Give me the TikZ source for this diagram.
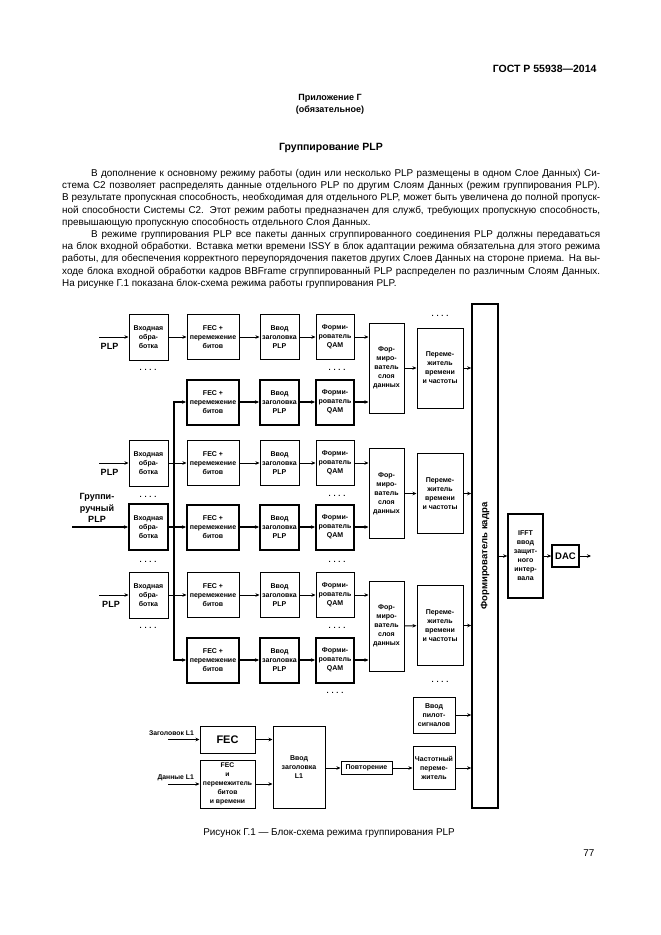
\documentclass[tikz,border=0pt]{standalone}
\usepackage{fontspec}
\setmainfont{Liberation Sans}
\usetikzlibrary{arrows.meta,positioning,calc}
\newcommand{\boxfont}{\fontsize{7}{9}\selectfont\bfseries}
\newcommand{\lblfont}{\fontsize{9}{11.5}\selectfont\bfseries}
\newcommand{\bodyfont}{\fontsize{9.9}{12.2}\selectfont}
\tikzset{
    >={Stealth[length=4pt,width=3.5pt]},
    block/.style={
        rectangle,
        draw=black, line width=1pt,
        align=center,
        inner sep=0.5pt,
        font=\boxfont
    },
    heavy block/.style={block, line width=2pt},
    conn/.style={draw, line width=1pt},
    heavy conn/.style={draw, line width=2pt},
    inbox/.style={minimum width=39pt, minimum height=46pt},
    fecbox/.style={minimum width=52pt, minimum height=45pt},
    hdrbox/.style={minimum width=39pt, minimum height=45pt},
    qambox/.style={minimum width=38pt, minimum height=45pt},
    slicebox/.style={minimum width=35pt, minimum height=90pt},
    ilvbox/.style={minimum width=46pt, minimum height=80pt},
    dots/.style={font=\fontsize{7.5}{7.5}\selectfont\bfseries, inner sep=0pt},
    plplabel/.style={font=\lblfont, inner sep=0pt}
}

\begin{document}
\begin{tikzpicture}[x=1pt,y=-1pt]
    \useasboundingbox (0,0) rectangle (661,935);
    \fill[white] (0,0) rectangle (661,935);

    % page header and text
    \node[anchor=base east, font=\fontsize{10.5}{12}\selectfont\bfseries] (gost) at (600,72) {ГОСТ Р 55938—2014};
    \node[align=center, font=\fontsize{9}{12}\selectfont\bfseries] (annex) at (330,104) {Приложение Г\\(обязательное)};
    \node[font=\fontsize{10.5}{12}\selectfont\bfseries] (title) at (331,148) {Группирование PLP};
    \node[anchor=north west, text width=538pt, align=justify, inner sep=0pt, font=\bodyfont] (body) at (62,169) {\hyphenpenalty=10000
        \hspace*{29pt}В дополнение к основному режиму работы (один или несколько PLP размещены в одном Слое Данных) Си-\linebreak
        стема C2 позволяет распределять данные отдельного PLP по другим Слоям Данных (режим группирования PLP).\linebreak
        В результате пропускная способность, необходимая для отдельного PLP, может быть увеличена до полной пропуск-\linebreak
        ной способности Системы C2. Этот режим работы предназначен для служб, требующих пропускную способность,\linebreak
        превышающую пропускную способность отдельного Слоя Данных.\par
        \hspace*{29pt}В режиме группирования PLP все пакеты данных сгруппированного соединения PLP должны передаваться\linebreak
        на блок входной обработки. Вставка метки времени ISSY в блок адаптации режима обязательна для этого режима\linebreak
        работы, для обеспечения корректного переупорядочения пакетов других Слоев Данных на стороне приема. На вы-\linebreak
        ходе блока входной обработки кадров BBFrame сгруппированный PLP распределен по различным Слоям Данных.\linebreak
        На рисунке Г.1 показана блок-схема режима работы группирования PLP.};

    % input processing
    \node[block, inbox] (in1) at (148.5,337) {Входная\\обра-\\ботка};
    \node[block, inbox] (in3) at (148.5,463) {Входная\\обра-\\ботка};
    \node[heavy block, inbox] (in4) at (148.5,527) {Входная\\обра-\\ботка};
    \node[block, inbox] (in5) at (148.5,595) {Входная\\обра-\\ботка};

    % FEC, header and QAM rows
    \node[block, fecbox] (fec1) at (213,337) {FEC +\\перемежение\\битов};
    \node[heavy block, fecbox] (fec2) at (213,402) {FEC +\\перемежение\\битов};
    \node[block, fecbox] (fec3) at (213,463) {FEC +\\перемежение\\битов};
    \node[heavy block, fecbox] (fec4) at (213,527) {FEC +\\перемежение\\битов};
    \node[block, fecbox] (fec5) at (213,595) {FEC +\\перемежение\\битов};
    \node[heavy block, fecbox] (fec6) at (213,660) {FEC +\\перемежение\\битов};

    \node[block, hdrbox] (hd1) at (279.5,337) {Ввод\\заголовка\\PLP};
    \node[heavy block, hdrbox] (hd2) at (279.5,402) {Ввод\\заголовка\\PLP};
    \node[block, hdrbox] (hd3) at (279.5,463) {Ввод\\заголовка\\PLP};
    \node[heavy block, hdrbox] (hd4) at (279.5,527) {Ввод\\заголовка\\PLP};
    \node[block, hdrbox] (hd5) at (279.5,595) {Ввод\\заголовка\\PLP};
    \node[heavy block, hdrbox] (hd6) at (279.5,660) {Ввод\\заголовка\\PLP};

    \node[block, qambox] (qam1) at (335,337) {Форми-\\рователь\\QAM};
    \node[heavy block, qambox] (qam2) at (335,402) {Форми-\\рователь\\QAM};
    \node[block, qambox] (qam3) at (335,463) {Форми-\\рователь\\QAM};
    \node[heavy block, qambox] (qam4) at (335,527) {Форми-\\рователь\\QAM};
    \node[block, qambox] (qam5) at (335,595) {Форми-\\рователь\\QAM};
    \node[heavy block, qambox] (qam6) at (335,660) {Форми-\\рователь\\QAM};

    % data slices and interleavers
    \node[block, slicebox] (ds1) at (386.5,368) {Фор-\\миро-\\ватель\\слоя\\данных};
    \node[block, slicebox] (ds2) at (386.5,493.5) {Фор-\\миро-\\ватель\\слоя\\данных};
    \node[block, slicebox] (ds3) at (386.5,626) {Фор-\\миро-\\ватель\\слоя\\данных};
    \node[block, ilvbox] (il1) at (440,368) {Переме-\\житель\\времени\\и частоты};
    \node[block, ilvbox] (il2) at (440,493.5) {Переме-\\житель\\времени\\и частоты};
    \node[block, ilvbox] (il3) at (440,625.5) {Переме-\\житель\\времени\\и частоты};

    % frame builder and output
    \node[block, line width=1.6pt, minimum width=26pt, minimum height=504pt] (ff) at (485,556) {};
    \node[rotate=90, font=\fontsize{9.5}{11}\selectfont\bfseries, inner sep=0pt] (fflabel) at (ff.center) {Формирователь кадра};
    \node[block, line width=1.6pt, minimum width=35pt, minimum height=84pt] (ifft) at (525.5,556) {IFFT\\ввод\\защит-\\ного\\интер-\\вала};
    \node[block, line width=1.4pt, minimum width=27pt, minimum height=22pt, font=\fontsize{9.5}{11}\selectfont\bfseries] (dac) at (565.5,556) {DAC};
    \coordinate (out) at (591,556);

    % L1 signalling
    \node[block, minimum width=55pt, minimum height=27pt, font=\fontsize{11}{13}\selectfont\bfseries] (fecl) at (227.5,739.5) {FEC};
    \node[block, minimum width=55pt, minimum height=48pt, font=\fontsize{6.8}{8.9}\selectfont\bfseries] (fecil) at (227.5,784) {FEC\\и\\перемежитель\\битов\\и времени};
    \node[block, minimum width=52pt, minimum height=82pt] (vvl) at (299,767) {Ввод\\заголовка\\L1};
    \node[block, minimum width=51pt, minimum height=13pt] (rep) at (366.5,768) {Повторение};
    \node[block, minimum width=42pt, minimum height=43pt] (fil) at (434,768) {Частотный\\переме-\\житель};
    \node[block, minimum width=42pt, minimum height=36pt] (pil) at (434,715) {Ввод\\пилот-\\сигналов};
    \coordinate (hdr) at (168,739.5);
    \coordinate (dat) at (168,784);
    \node[anchor=south east, font=\fontsize{6.8}{8}\selectfont\bfseries, inner sep=0pt] (hdrlabel) at (194,736) {Заголовок L1};
    \node[anchor=south east, font=\fontsize{6.8}{8}\selectfont\bfseries, inner sep=0pt] (datlabel) at (194,781) {Данные L1};

    % PLP inputs
    \coordinate (plp1) at (99,337);
    \coordinate (plp3) at (99,463);
    \coordinate (grp) at (72,527);
    \coordinate (plp5) at (99,595);
    \coordinate (bus) at (174,527);
    \node[plplabel] (plp1label) at (109.5,346) {PLP};
    \node[plplabel] (plp3label) at (109.5,472) {PLP};
    \node[plplabel, align=center] (grplabel) at (97,508) {Группи-\\ручный\\PLP};
    \node[plplabel] (plp5label) at (111,604) {PLP};

    % dots
    \node[dots] (dt1) at (148,370) {. . . .};
    \node[dots] (dt2) at (148,497) {. . . .};
    \node[dots] (dt3) at (148,562) {. . . .};
    \node[dots] (dt4) at (148,628) {. . . .};
    \node[dots] (dt5) at (337,370) {. . . .};
    \node[dots] (dt6) at (337,496) {. . . .};
    \node[dots] (dt7) at (337,562) {. . . .};
    \node[dots] (dt8) at (337,628) {. . . .};
    \node[dots] (dt9) at (440,316) {. . . .};
    \node[dots] (dt10) at (440,682) {. . . .};
    \node[dots] (dt11) at (335,693) {. . . .};

    % connections
    \draw[conn,->] (plp1) -- (in1);
    \draw[conn,->] (plp3) -- (in3);
    \draw[heavy conn,->] (grp) -- (in4);
    \draw[conn,->] (plp5) -- (in5);
    \draw[conn,->] (in1) -- (fec1);
    \draw[conn,->] (in3) -- (fec3);
    \draw[heavy conn,->] (in4) -- (fec4);
    \draw[conn,->] (in5) -- (fec5);
    \draw[heavy conn,<->] (fec2.west) -| (bus |- fec6.west) -- (fec6.west);

    \draw[conn,->] (fec1) -- (hd1);
    \draw[heavy conn,->] (fec2) -- (hd2);
    \draw[conn,->] (fec3) -- (hd3);
    \draw[heavy conn,->] (fec4) -- (hd4);
    \draw[conn,->] (fec5) -- (hd5);
    \draw[heavy conn,->] (fec6) -- (hd6);
    \draw[conn,->] (hd1) -- (qam1);
    \draw[heavy conn,->] (hd2) -- (qam2);
    \draw[conn,->] (hd3) -- (qam3);
    \draw[heavy conn,->] (hd4) -- (qam4);
    \draw[conn,->] (hd5) -- (qam5);
    \draw[heavy conn,->] (hd6) -- (qam6);

    \draw[conn,->] (qam1) -- (qam1 -| ds1.west);
    \draw[heavy conn,->] (qam2) -- (qam2 -| ds1.west);
    \draw[conn,->] (qam3) -- (qam3 -| ds2.west);
    \draw[heavy conn,->] (qam4) -- (qam4 -| ds2.west);
    \draw[conn,->] (qam5) -- (qam5 -| ds3.west);
    \draw[heavy conn,->] (qam6) -- (qam6 -| ds3.west);

    \draw[conn,->] (ds1) -- (il1);
    \draw[conn,->] (ds2) -- (il2);
    \draw[conn,->] (ds3) -- (il3);
    \draw[conn,->] (il1) -- (il1 -| ff.west);
    \draw[conn,->] (il2) -- (il2 -| ff.west);
    \draw[conn,->] (il3) -- (il3 -| ff.west);
    \draw[conn,->] (ff) -- (ifft);
    \draw[conn,->] (ifft) -- (dac);
    \draw[conn,->] (dac) -- (out);

    \draw[conn,->] (hdr) -- (fecl);
    \draw[conn,->] (dat) -- (fecil);
    \draw[conn,->] (fecl) -- (fecl -| vvl.west);
    \draw[conn,->] (fecil) -- (fecil -| vvl.west);
    \draw[conn,->] (vvl.east |- rep.west) -- (rep.west);
    \draw[conn,->] (rep) -- (fil);
    \draw[conn,->] (fil) -- (fil -| ff.west);
    \draw[conn,->] (pil) -- (pil -| ff.west);

    % caption
    \node[font=\bodyfont] (caption) at (329,833) {Рисунок Г.1 — Блок-схема режима группирования PLP};
    \node[anchor=base east, font=\bodyfont] (pagenum) at (598,856) {77};
\end{tikzpicture}
\end{document}
